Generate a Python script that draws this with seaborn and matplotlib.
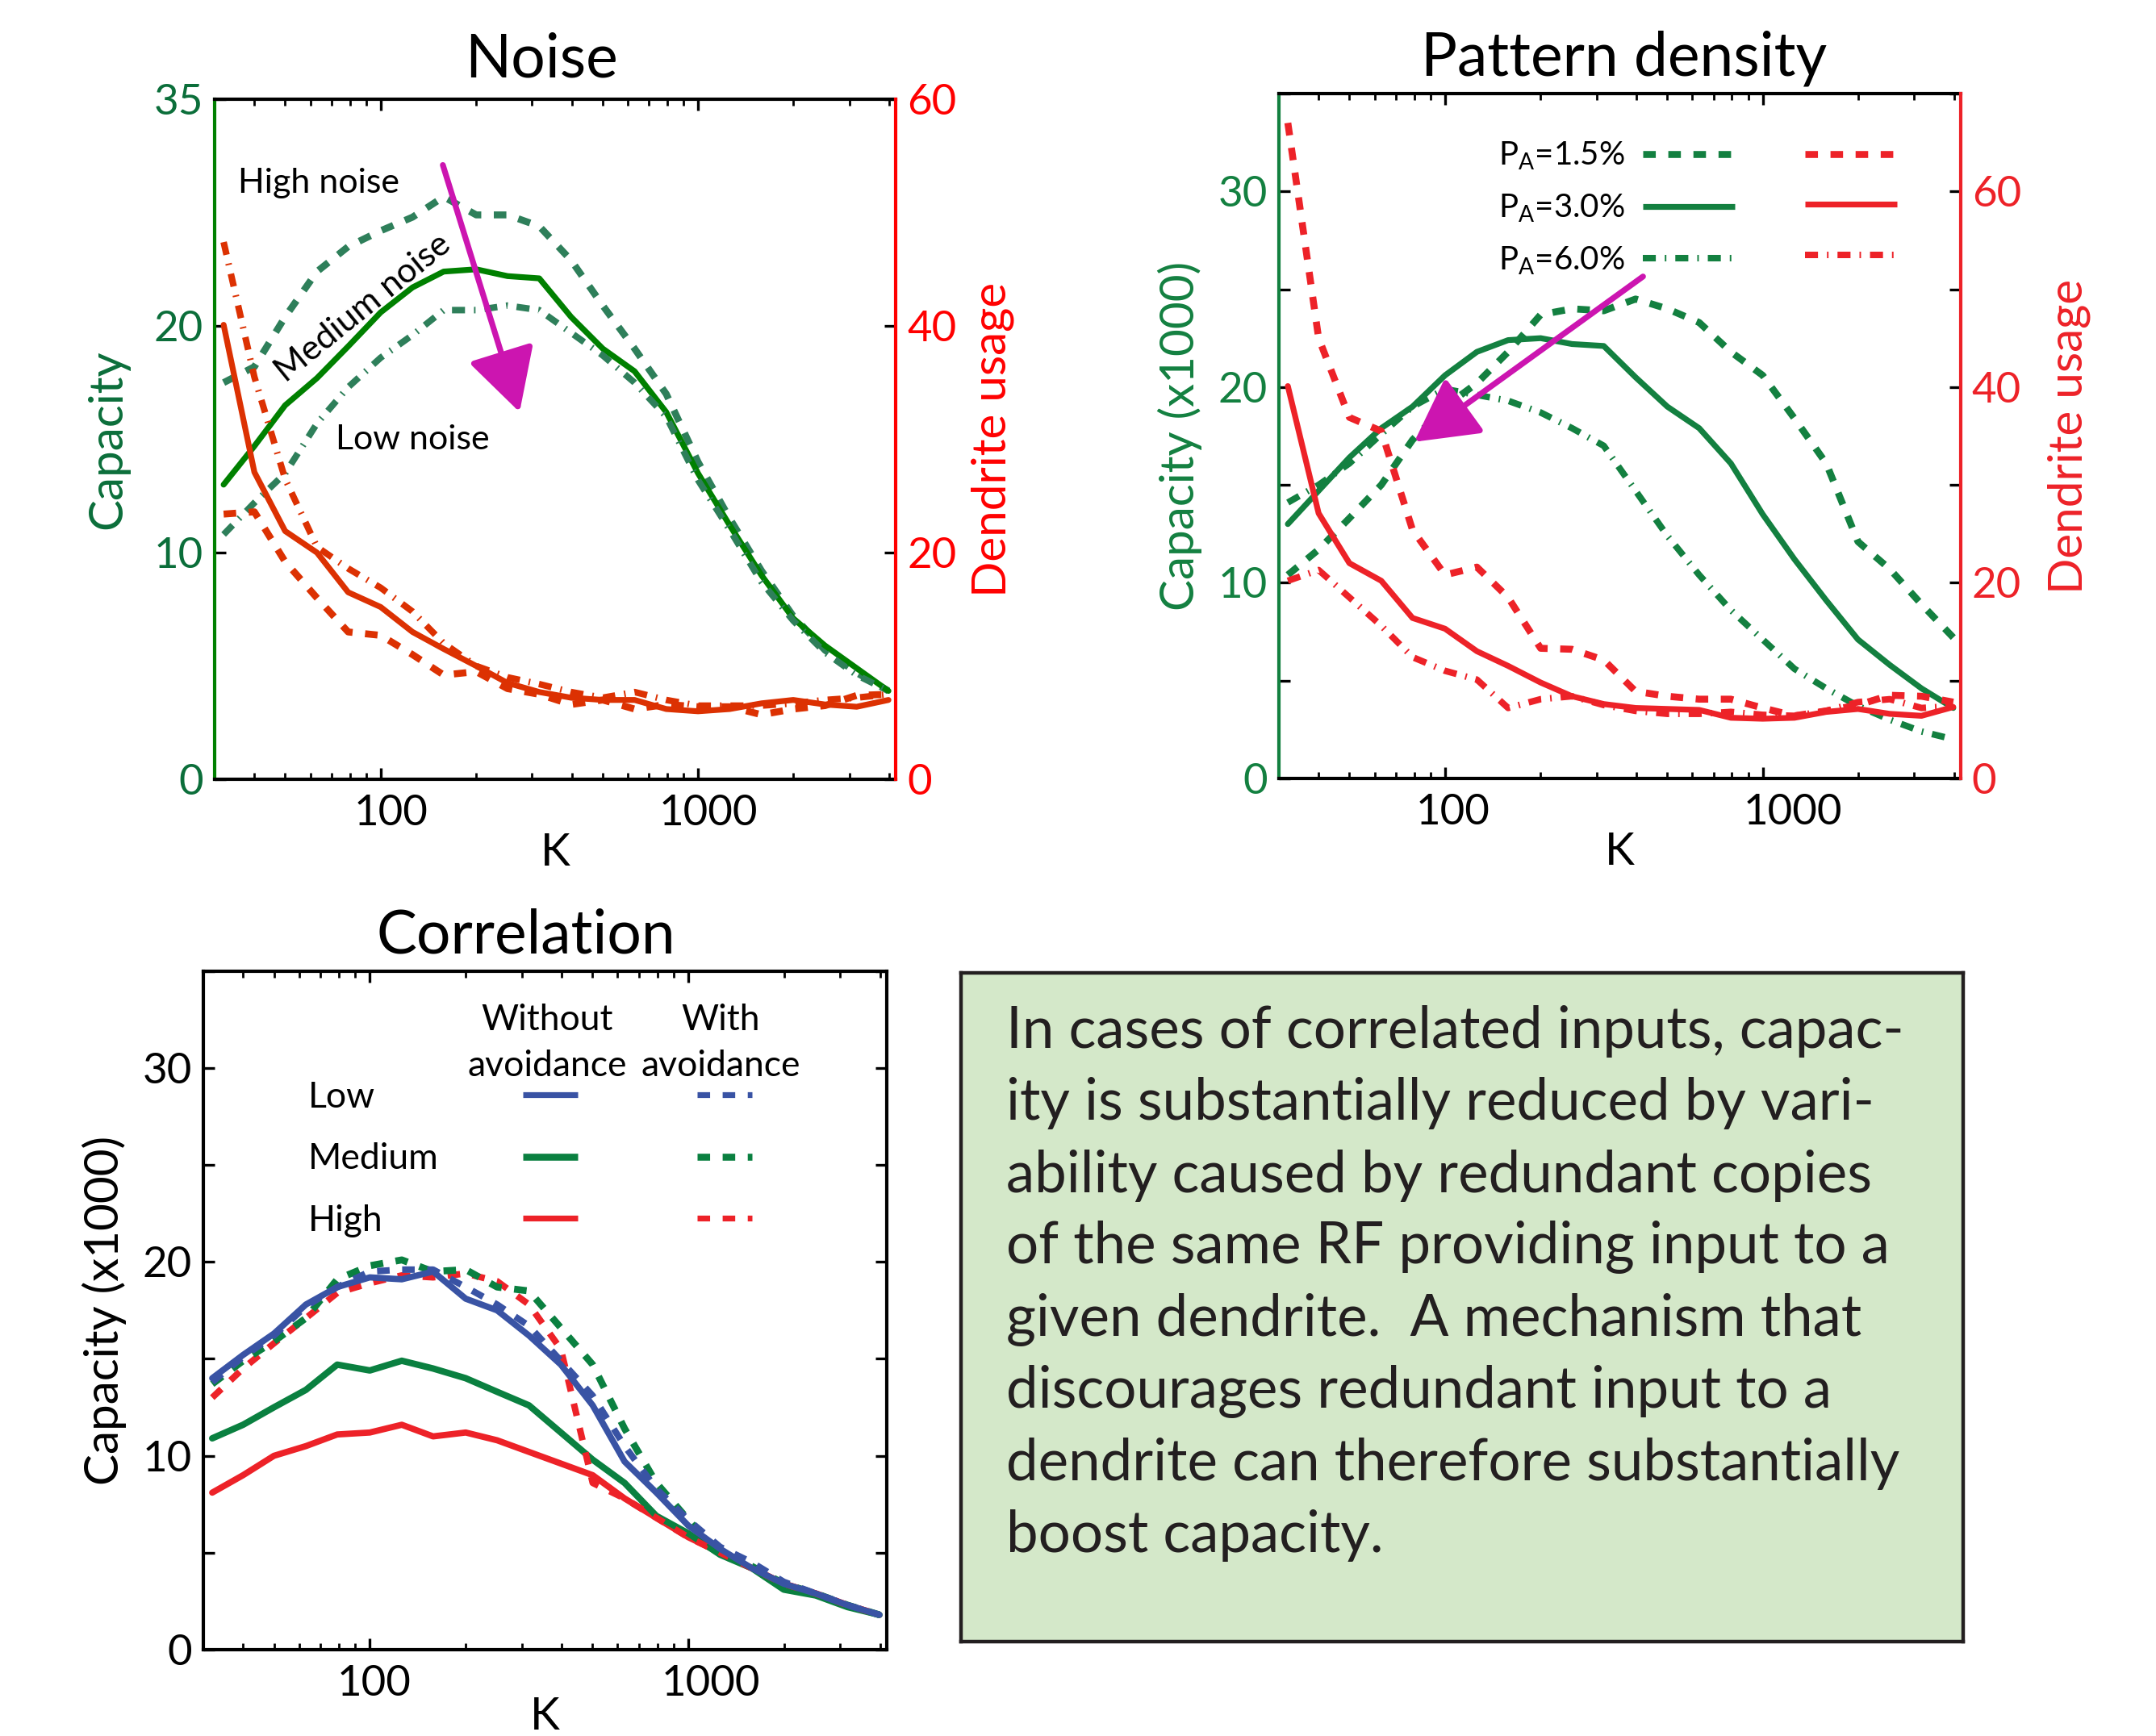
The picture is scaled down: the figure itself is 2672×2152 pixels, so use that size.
import numpy as np
import seaborn as sns
import matplotlib.pyplot as plt
import matplotlib.transforms as mtransforms
from matplotlib.lines import Line2D
from matplotlib.ticker import FixedLocator, FixedFormatter, LogLocator, NullFormatter

# ---------------- dati ----------------
K = [32, 40, 50, 63, 79, 100, 126, 158, 200, 251, 316, 398, 501, 631, 794,
     1000, 1259, 1585, 1995, 2512, 3162, 3981]

# Noise: capacita' (asse sinistro) e uso dendriti (asse destro)
noise_cap_high = [17.5, 18.2, 20.4, 22.4, 23.5, 24.2, 24.8, 25.7, 24.9, 24.9, 24.4,
                  22.9, 20.9, 19.0, 17.0, 14.0, 11.5, 9.2, 7.2, 5.7, 4.7, 3.9]
noise_cap_med = [13.0, 14.7, 16.5, 17.7, 19.1, 20.6, 21.7, 22.4, 22.5, 22.2, 22.1,
                 20.4, 19.0, 18.0, 16.2, 13.5, 11.2, 9.0, 7.1, 5.9, 4.9, 3.9]
noise_cap_low = [10.8, 12.2, 13.5, 15.7, 17.3, 18.6, 19.6, 20.7, 20.7, 20.9, 20.7,
                 19.7, 18.7, 17.5, 16.0, 13.2, 11.0, 8.7, 7.0, 5.6, 4.6, 3.9]
noise_use_high = [23.4, 23.6, 19.2, 16.0, 13.0, 12.7, 11.0, 9.2, 9.5, 8.0, 7.5,
                  6.6, 7.0, 6.2, 6.6, 6.4, 6.4, 5.7, 6.2, 6.5, 7.4, 7.5]
noise_use_med = [40.1, 27.1, 21.9, 20.0, 16.5, 15.2, 13.0, 11.5, 10.0, 8.5, 7.7,
                 7.2, 7.0, 7.0, 6.2, 6.0, 6.2, 6.7, 7.0, 6.6, 6.4, 7.0]
noise_use_low = [47.4, 35.5, 26.5, 20.5, 18.6, 16.9, 14.8, 12.0, 10.0, 9.0, 8.4,
                 7.7, 7.2, 7.7, 7.0, 6.5, 6.5, 6.5, 6.7, 7.0, 7.2, 7.5]

# Pattern density
pd_cap_15 = [10.4, 11.7, 13.3, 15.0, 17.3, 19.0, 20.2, 21.8, 23.7, 24.0, 23.9,
             24.5, 24.0, 23.3, 21.8, 20.6, 18.4, 16.1, 12.1, 10.7, 8.9, 7.2]
pd_cap_30 = [13.0, 14.7, 16.4, 17.9, 19.0, 20.6, 21.8, 22.4, 22.5, 22.2, 22.1,
             20.5, 19.0, 17.9, 16.1, 13.5, 11.2, 9.1, 7.1, 5.8, 4.6, 3.6]
pd_cap_60 = [14.1, 15.0, 16.1, 17.6, 19.0, 19.9, 19.6, 19.3, 18.7, 17.9, 17.0,
             14.7, 12.4, 10.4, 8.6, 7.1, 5.6, 4.6, 3.7, 3.0, 2.4, 2.0]
pd_use_15 = [67.0, 45.0, 36.9, 35.5, 25.4, 20.8, 21.6, 18.5, 13.3, 13.2, 12.1,
             8.9, 8.4, 8.1, 8.1, 7.2, 6.4, 6.9, 7.5, 8.5, 8.4, 7.8]
pd_use_30 = [40.1, 27.1, 22.0, 20.2, 16.4, 15.3, 13.0, 11.5, 9.8, 8.4, 7.6,
             7.2, 7.1, 7.0, 6.2, 6.1, 6.2, 6.8, 7.1, 6.6, 6.4, 7.3]
pd_use_60 = [20.2, 21.3, 18.5, 15.6, 12.4, 11.0, 10.1, 7.2, 8.1, 8.4, 7.5,
             6.9, 6.6, 6.6, 6.8, 6.5, 6.4, 6.9, 7.8, 8.1, 7.2, 7.4]
pd_labels = ['P$_{\\mathregular{A}}$=1.5%', 'P$_{\\mathregular{A}}$=3.0%',
             'P$_{\\mathregular{A}}$=6.0%']

# Correlation (senza / con avoidance)
corr_low_without = [14.0, 15.2, 16.3, 17.8, 18.7, 19.2, 19.1, 19.5, 18.1, 17.5, 16.2,
                    14.7, 12.6, 9.7, 8.1, 6.4, 5.2, 4.2, 3.4, 2.9, 2.3, 1.8]
corr_low_with = [13.8, 15.1, 16.2, 17.7, 18.7, 19.5, 19.6, 19.6, 18.7, 17.8, 16.7,
                 14.9, 13.1, 10.5, 8.3, 6.7, 5.3, 4.5, 3.5, 2.9, 2.3, 1.8]
corr_med_without = [10.9, 11.6, 12.5, 13.4, 14.7, 14.4, 14.9, 14.5, 14.0, 13.3, 12.6,
                    11.2, 9.8, 8.6, 6.9, 6.0, 4.9, 4.2, 3.1, 2.8, 2.2, 1.8]
corr_med_with = [13.7, 14.9, 15.9, 17.1, 19.1, 19.8, 20.1, 19.5, 19.6, 18.7, 18.5,
                 16.6, 14.7, 11.4, 8.6, 6.7, 4.9, 4.3, 3.4, 2.9, 2.3, 1.8]
corr_high_without = [8.1, 9.0, 10.0, 10.5, 11.1, 11.2, 11.6, 11.0, 11.2, 10.8, 10.2,
                     9.6, 9.0, 7.8, 6.8, 5.8, 5.0, 4.2, 3.4, 2.9, 2.3, 1.8]
corr_high_with = [13.0, 14.5, 15.8, 17.1, 18.4, 18.9, 19.3, 19.2, 19.4, 19.0, 17.8,
                  15.5, 8.6, 7.8, 6.8, 5.8, 5.0, 4.2, 3.4, 2.9, 2.3, 1.8]
corr_rows = ['Low', 'Medium', 'High']

testo_box = [
    "In cases of correlated inputs, capac-",
    "ity is substantially reduced by vari-",
    "ability caused by redundant copies",
    "of the same RF providing input to a",
    "given dendrite.  A mechanism that",
    "discourages redundant input to a",
    "dendrite can therefore substantially",
    "boost capacity.",
]

# ---------------- stile ----------------
sns.set_style('ticks', {'axes.edgecolor': 'black', 'xtick.color': 'black',
                        'ytick.color': 'black', 'text.color': 'black',
                        'axes.labelcolor': 'black'})
plt.rcParams['font.family'] = ['Lato', 'DejaVu Sans']
plt.rcParams['lines.scale_dashes'] = False
plt.rcParams['mathtext.default'] = 'regular'

DASH = (5.6, 5.6)
DASHDOT = (5.8, 4.0, 0.7, 4.0)
MAGENTA = '#cc15b0'

TICK_FS = 19
LAB_FS = 21
LW_SOLID, LW_DASH, LW_DOT = 2.6, 3.1, 2.9


def traccia(ax, y, colore, lw, dashes=None):
    sns.lineplot(x=K, y=y, ax=ax, color=colore, linewidth=lw, errorbar=None, legend=False)
    ln = ax.lines[-1]
    if dashes is not None:
        ln.set_dashes(dashes)
    ln.set_dash_capstyle('butt')
    ln.set_solid_joinstyle('round')
    return ln


def asse_k(ax, pad_k=0):
    ax.set_xscale('log')
    ax.set_xlim(30, 4200)
    ax.xaxis.set_major_locator(FixedLocator([100, 1000]))
    ax.xaxis.set_major_formatter(FixedFormatter(['100', '1000']))
    ax.xaxis.set_minor_locator(LogLocator(base=10, subs=np.arange(2, 10)))
    ax.xaxis.set_minor_formatter(NullFormatter())
    ax.tick_params(axis='x', which='both', direction='in', top=True, bottom=True)
    ax.tick_params(axis='x', which='major', length=5, width=1.2, labelsize=TICK_FS, pad=7)
    ax.tick_params(axis='x', which='minor', length=3, width=1.0)
    ax.set_xlabel('K', fontsize=20, labelpad=pad_k)
    for s in ax.spines.values():
        s.set_linewidth(1.5)


def sposta_etichette(ax, spostamenti):
    # piccolo scostamento orizzontale delle etichette 100 / 1000 (in punti)
    for lab, dx in zip(ax.xaxis.get_majorticklabels(), spostamenti):
        off = mtransforms.ScaledTranslation(dx / 72, 0, fig.dpi_scale_trans)
        lab.set_transform(lab.get_transform() + off)


def proxy(colore, lw, dashes=None):
    if dashes is None:
        return Line2D([], [], color=colore, lw=lw, solid_capstyle='butt')
    return Line2D([], [], color=colore, lw=lw, dashes=dashes, dash_capstyle='butt')


fig = plt.figure(figsize=(13.36, 10.76), dpi=200)

# ---------------- Noise ----------------
g_solid, g_dash, g_lab = '#008000', '#2e7f5a', '#0b6e3a'
r_noise, r_lab = '#dc3102', '#ff0000'

ax_n = fig.add_axes([0.0996, 0.5511, 0.3159, 0.3917])
ax2 = ax_n.twinx()
traccia(ax_n, noise_cap_high, g_dash, LW_DASH, DASH)
traccia(ax_n, noise_cap_med, g_solid, LW_SOLID)
traccia(ax_n, noise_cap_low, g_dash, LW_DOT, DASHDOT)
traccia(ax2, noise_use_high, r_noise, LW_DASH, DASH)
traccia(ax2, noise_use_med, r_noise, LW_SOLID)
traccia(ax2, noise_use_low, r_noise, LW_DOT, DASHDOT)
asse_k(ax_n)
ax_n.set_ylim(0, 30)
ax_n.yaxis.set_major_locator(FixedLocator([0, 10, 20, 30]))
ax_n.yaxis.set_major_formatter(FixedFormatter(['0', '10', '20', '35']))
ax_n.tick_params(axis='y', direction='in', length=5, width=1.2, colors='black',
                 labelcolor=g_lab, labelsize=TICK_FS, pad=5)
ax_n.set_ylabel('Capacity', fontsize=LAB_FS, color=g_lab, labelpad=11)
ax2.set_ylim(0, 60)
ax2.yaxis.set_major_locator(FixedLocator([0, 20, 40, 60]))
ax2.tick_params(axis='y', direction='in', length=5, width=1.2, colors='black',
                labelcolor=r_lab, labelsize=TICK_FS, pad=5)
ax2.set_ylabel('Dendrite usage', fontsize=LAB_FS, color=r_lab, labelpad=6.5)
ax_n.spines['right'].set_visible(False)
ax_n.spines['left'].set_color(g_solid)
for s in ['left', 'top', 'bottom']:
    ax2.spines[s].set_visible(False)
ax2.spines['right'].set_color(r_lab)
ax2.spines['right'].set_linewidth(1.5)
ax_n.set_title('Noise', fontsize=27, pad=10, x=0.48)
ax_n.text(35.6, 26.3, 'High noise', fontsize=15.5, ha='left', va='center')
ax_n.text(88, 20.8, 'Medium noise', fontsize=15.5, ha='center', va='center',
          rotation=39, rotation_mode='anchor')
ax_n.text(72, 15.0, 'Low noise', fontsize=15.5, ha='left', va='center')
ax2.annotate('', xy=(274, 32.4), xytext=(157, 54.2),
             arrowprops=dict(arrowstyle='-|>,head_length=1.2,head_width=0.65',
                             color=MAGENTA, lw=2.6, mutation_scale=20,
                             shrinkA=0, shrinkB=0))

# ---------------- Pattern density ----------------
g_pd, r_pd = '#138040', '#ed2228'
ax_p = fig.add_axes([0.5932, 0.5516, 0.3162, 0.3945])
ax2 = ax_p.twinx()
traccia(ax_p, pd_cap_15, g_pd, LW_DASH, DASH)
traccia(ax_p, pd_cap_30, g_pd, LW_SOLID)
traccia(ax_p, pd_cap_60, g_pd, LW_DOT, DASHDOT)
traccia(ax2, pd_use_15, r_pd, LW_DASH, DASH)
traccia(ax2, pd_use_30, r_pd, LW_SOLID)
traccia(ax2, pd_use_60, r_pd, LW_DOT, DASHDOT)
asse_k(ax_p)
ax_p.set_ylim(0, 35)
ax_p.yaxis.set_major_locator(FixedLocator([0, 5, 10, 15, 20, 25, 30, 35]))
ax_p.yaxis.set_major_formatter(FixedFormatter(['0', '', '10', '', '20', '', '30', '']))
ax_p.tick_params(axis='y', direction='in', length=5, width=1.2, colors='black',
                 labelcolor=g_pd, labelsize=TICK_FS, pad=5)
ax_p.set_ylabel('Capacity (x1000)', fontsize=LAB_FS, color=g_pd, labelpad=7)
ax2.set_ylim(0, 70)
ax2.yaxis.set_major_locator(FixedLocator([0, 10, 20, 30, 40, 50, 60, 70]))
ax2.yaxis.set_major_formatter(FixedFormatter(['0', '', '20', '', '40', '', '60', '']))
ax2.tick_params(axis='y', direction='in', length=5, width=1.2, colors='black',
                labelcolor=r_pd, labelsize=TICK_FS, pad=5)
ax2.set_ylabel('Dendrite usage', fontsize=LAB_FS, color=r_pd, labelpad=11.5)
ax_p.spines['right'].set_visible(False)
ax_p.spines['left'].set_color(g_pd)
for s in ['left', 'top', 'bottom']:
    ax2.spines[s].set_visible(False)
ax2.spines['right'].set_color(r_pd)
ax2.spines['right'].set_linewidth(1.5)
ax_p.set_title('Pattern density', fontsize=27, pad=8, x=0.506)
ax2.annotate('', xy=(80, 34.4), xytext=(420, 51.3),
             arrowprops=dict(arrowstyle='-|>,head_length=1.2,head_width=0.65',
                             color=MAGENTA, lw=2.6, mutation_scale=20,
                             shrinkA=0, shrinkB=0))
maniglie = [proxy(g_pd, LW_DASH, DASH), proxy(g_pd, LW_SOLID), proxy(g_pd, LW_DOT, DASHDOT),
            proxy(r_pd, LW_DASH, DASH), proxy(r_pd, LW_SOLID), proxy(r_pd, LW_DOT, DASHDOT)]
ax2.legend(maniglie, pd_labels + ['', '', ''], ncol=2, markerfirst=False,
           loc='upper left', bbox_to_anchor=(0.322, 0.932), frameon=False,
           fontsize=14.5, handlelength=2.83, handletextpad=0.55, columnspacing=1.6,
           labelspacing=0.635, borderpad=0, borderaxespad=0)

# ---------------- Correlation ----------------
blu, verde, rosso = '#3953a4', '#0a8040', '#ed2228'
ax_c = fig.add_axes([0.0943, 0.0497, 0.317, 0.391])
traccia(ax_c, corr_high_without, rosso, 2.8)
traccia(ax_c, corr_med_without, verde, 2.9)
traccia(ax_c, corr_high_with, rosso, 2.9, DASH)
traccia(ax_c, corr_med_with, verde, 3.1, DASH)
traccia(ax_c, corr_low_with, blu, 2.9, DASH)
traccia(ax_c, corr_low_without, blu, 2.8)
asse_k(ax_c, pad_k=-3)
ax_c.set_ylim(0, 35)
ax_c.yaxis.set_major_locator(FixedLocator([0, 5, 10, 15, 20, 25, 30, 35]))
ax_c.yaxis.set_major_formatter(FixedFormatter(['0', '', '10', '', '20', '', '30', '']))
ax_c.tick_params(axis='y', direction='in', length=5, width=1.2, right=True,
                 labelsize=TICK_FS, pad=5)
ax_c.set_ylabel('Capacity (x1000)', fontsize=LAB_FS, labelpad=7)
ax_c.set_title('Correlation', fontsize=27, pad=8, x=0.472)
vuoto = Line2D([], [], color='none')
maniglie = [vuoto, vuoto, vuoto,
            proxy(blu, 2.6), proxy(verde, 3.1), proxy(rosso, 2.6),
            proxy(blu, 2.6, DASH), proxy(verde, 3.1, DASH), proxy(rosso, 2.6, DASH)]
ax_c.legend(maniglie, corr_rows + [''] * 6, ncol=3, loc='upper left',
            bbox_to_anchor=(0.021, 0.838), frameon=False, fontsize=16,
            handlelength=1.53, handletextpad=0.99, columnspacing=2.34,
            labelspacing=0.80, borderpad=0, borderaxespad=0)
for xc, parole in [(0.503, ('Without', 'avoidance')), (0.757, ('With', 'avoidance'))]:
    ax_c.text(xc, 0.9276, parole[0], transform=ax_c.transAxes, fontsize=16,
              ha='center', va='center')
    ax_c.text(xc, 0.86, parole[1], transform=ax_c.transAxes, fontsize=16,
              ha='center', va='center')

# ---------------- riquadro di testo ----------------
box = fig.add_axes([0.4457, 0.0544, 0.4648, 0.385])
box.set_facecolor('#d4e8c9')
box.set_xticks([])
box.set_yticks([])
for s in box.spines.values():
    s.set_color('#231f20')
    s.set_linewidth(1.6)
passo = 89.4 / 829
for i, riga in enumerate(testo_box):
    box.text(0.045, 1 - 72 / 829 - i * passo, riga, transform=box.transAxes,
             fontsize=25.5, ha='left', va='center', color='#231f20')

# etichette dei tick come nell'originale (leggermente spostate a destra)
sposta_etichette(ax_n, [4.5, 4.5])
sposta_etichette(ax_p, [3.5, 13.5])
sposta_etichette(ax_c, [1.8, 10.0])

fig.savefig('out.png', dpi=200)
